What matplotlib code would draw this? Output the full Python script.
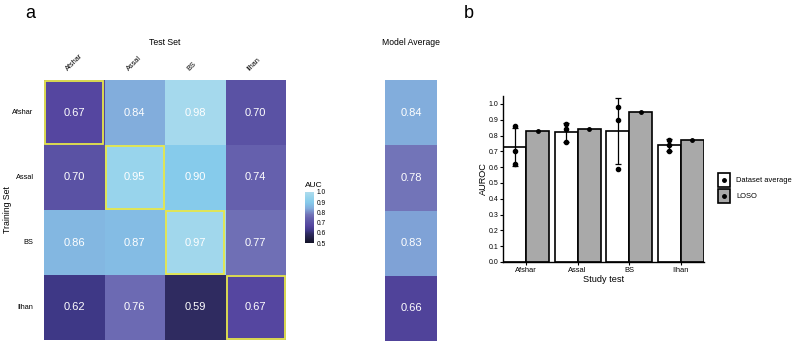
import matplotlib
matplotlib.use("Agg")
import matplotlib.pyplot as plt
import numpy as np
from matplotlib.colors import LinearSegmentedColormap, Normalize
from matplotlib.patches import Rectangle
from matplotlib.lines import Line2D
import matplotlib.cm as cm

plt.rcParams["font.family"] = ["Liberation Sans", "DejaVu Sans"]

# ---- data ----
studies = ["Afshar", "Assal", "BS", "Ilhan"]
auc = np.array([
    [0.67, 0.84, 0.98, 0.70],
    [0.70, 0.95, 0.90, 0.74],
    [0.86, 0.87, 0.97, 0.77],
    [0.62, 0.76, 0.59, 0.67],
])
model_avg = [0.84, 0.78, 0.83, 0.66]

dataset_avg = [0.73, 0.82, 0.83, 0.74]
dataset_sd = [0.12, 0.06, 0.21, 0.04]
dataset_points = [
    [0.86, 0.70, 0.62],
    [0.84, 0.87, 0.76],
    [0.98, 0.90, 0.59],
    [0.70, 0.74, 0.77],
]
loso = [0.83, 0.84, 0.95, 0.77]
y_ticks = [0.0, 0.1, 0.2, 0.3, 0.4, 0.5, 0.6, 0.7, 0.8, 0.9, 1.0]
cbar_ticks = [0.5, 0.6, 0.7, 0.8, 0.9, 1.0]
legend_labels = ["Dataset average", "LOSO"]
bar_colors = ["white", "#a9a9a9"]

# colour scale (dark navy -> purple -> light blue)
nodes = [0.5, 0.59, 0.62, 0.67, 0.7, 0.75, 0.78, 0.84, 0.9, 0.95, 1.0]
cols = ["#121226", "#2f2b60", "#3e3886", "#5546a0", "#5a52a4", "#6864b0",
        "#7274b8", "#82acdc", "#86cbeb", "#98d4ec", "#aedced"]
cmap = LinearSegmentedColormap.from_list(
    "auc", [((v - 0.5) / 0.5, c) for v, c in zip(nodes, cols)])
norm = Normalize(0.5, 1.0)

W, H = 800, 347
fig = plt.figure(figsize=(W / 100, H / 100), dpi=100)


def px_axes(x0, y0, x1, y1):
    return fig.add_axes([x0 / W, 1 - y1 / H, (x1 - x0) / W, (y1 - y0) / H])


# ---- panel a: heatmap ----
ax = px_axes(44, 80, 286, 340)
ax.pcolormesh(np.arange(5), np.arange(5), auc, cmap=cmap, norm=norm)
ax.set_xlim(0, 4)
ax.set_ylim(4, 0)
ax.axis("off")
for i in range(4):
    for j in range(4):
        ax.text(j + 0.5, i + 0.5, f"{auc[i, j]:.2f}", color="white",
                ha="center", va="center", fontsize=8)
    ax.add_patch(Rectangle((i + 0.02, i + 0.02), 0.96, 0.96, fill=False,
                           edgecolor="#e6e64a", lw=1.3, zorder=3))
    ax.text(i + 0.5 - 0.075, -0.12, studies[i], rotation=45,
            rotation_mode="anchor", ha="left", va="bottom", fontsize=5.3,
            clip_on=False)
    ax.text(-0.17, i + 0.5, studies[i], ha="right", va="center",
            fontsize=5.3, clip_on=False)
ax.text(2, -0.57, "Test Set", ha="center", va="center", fontsize=6.3)
ax.text(-0.6, 2.0, "Training Set", rotation=90, ha="center", va="center",
        fontsize=6.3)

# model average column
ax2 = px_axes(385, 80, 437, 341)
ax2.pcolormesh([0, 1], np.arange(5), np.array(model_avg)[:, None],
               cmap=cmap, norm=norm)
ax2.set_xlim(0, 1)
ax2.set_ylim(4, 0)
ax2.axis("off")
for i, v in enumerate(model_avg):
    ax2.text(0.5, i + 0.5, f"{v:.2f}", color="white", ha="center",
             va="center", fontsize=8)
ax2.text(0.5, -0.57, "Model Average", ha="center", va="center", fontsize=6.2)

# colourbar
cax = px_axes(305, 192, 314, 243)
cb = fig.colorbar(cm.ScalarMappable(norm=norm, cmap=cmap), cax=cax,
                  ticks=cbar_ticks)
cb.outline.set_visible(False)
cax.tick_params(length=0, labelsize=4.8, pad=2)
cax.set_yticklabels([f"{t:.1f}" for t in cbar_ticks])
cax.text(0, 1.06, "AUC", transform=cax.transAxes, ha="left",
         va="bottom", fontsize=6)

fig.text(30 / W, 1 - 14 / H, "a", fontsize=13, ha="center", va="center")
fig.text(469 / W, 1 - 14 / H, "b", fontsize=13, ha="center", va="center")

# ---- panel b: bar chart ----
bx = px_axes(503, 96, 704, 262)
x = np.arange(len(studies))
bw = 0.45
bx.bar(x - bw / 2, dataset_avg, bw, color=bar_colors[0], edgecolor="black",
       lw=1.2, zorder=2)
bx.bar(x + bw / 2, loso, bw, color=bar_colors[1], edgecolor="black",
       lw=1.2, zorder=2)
bx.errorbar(x - bw / 2, dataset_avg, yerr=dataset_sd, fmt="none",
            ecolor="black", elinewidth=0.9, capsize=2.2, capthick=0.9,
            zorder=3)
for k, pts in enumerate(dataset_points):
    bx.plot([x[k] - bw / 2] * len(pts), pts, "o", color="black", ms=3,
            zorder=4)
bx.plot(x + bw / 2, loso, "o", color="black", ms=2.5, zorder=4)

bx.set_xlim(-bw, 3 + bw)
bx.set_ylim(0, 1.05)
bx.set_yticks(y_ticks)
bx.set_yticklabels([f"{t:.1f}" for t in y_ticks])
bx.set_xticks(x)
bx.set_xticklabels(studies)
bx.tick_params(axis="y", labelsize=5, length=2, width=0.8, pad=1.5)
bx.tick_params(axis="x", labelsize=5.4, length=2, width=0.8, pad=1.5)
for s in ["top", "right"]:
    bx.spines[s].set_visible(False)
for s in ["left", "bottom"]:
    bx.spines[s].set_linewidth(1.0)
bx.set_xlabel("Study test", fontsize=6.6, labelpad=1)
bx.set_ylabel("AUROC", fontsize=6.6, labelpad=0)

# legend drawn by hand: square key with a dot in the middle
for k, (lab, col) in enumerate(zip(legend_labels, bar_colors)):
    y0 = 173 + k * 16
    fig.add_artist(Rectangle((718 / W, 1 - (y0 + 14) / H), 12 / W, 14 / H,
                             transform=fig.transFigure, facecolor=col,
                             edgecolor="black", lw=1.2))
    fig.add_artist(Line2D([724 / W], [1 - (y0 + 7) / H], marker="o",
                          color="black", ms=2.5, transform=fig.transFigure))
    fig.text(736 / W, 1 - (y0 + 7) / H, lab, ha="left", va="center",
             fontsize=5.4)

fig.savefig("out.png", dpi=100)
